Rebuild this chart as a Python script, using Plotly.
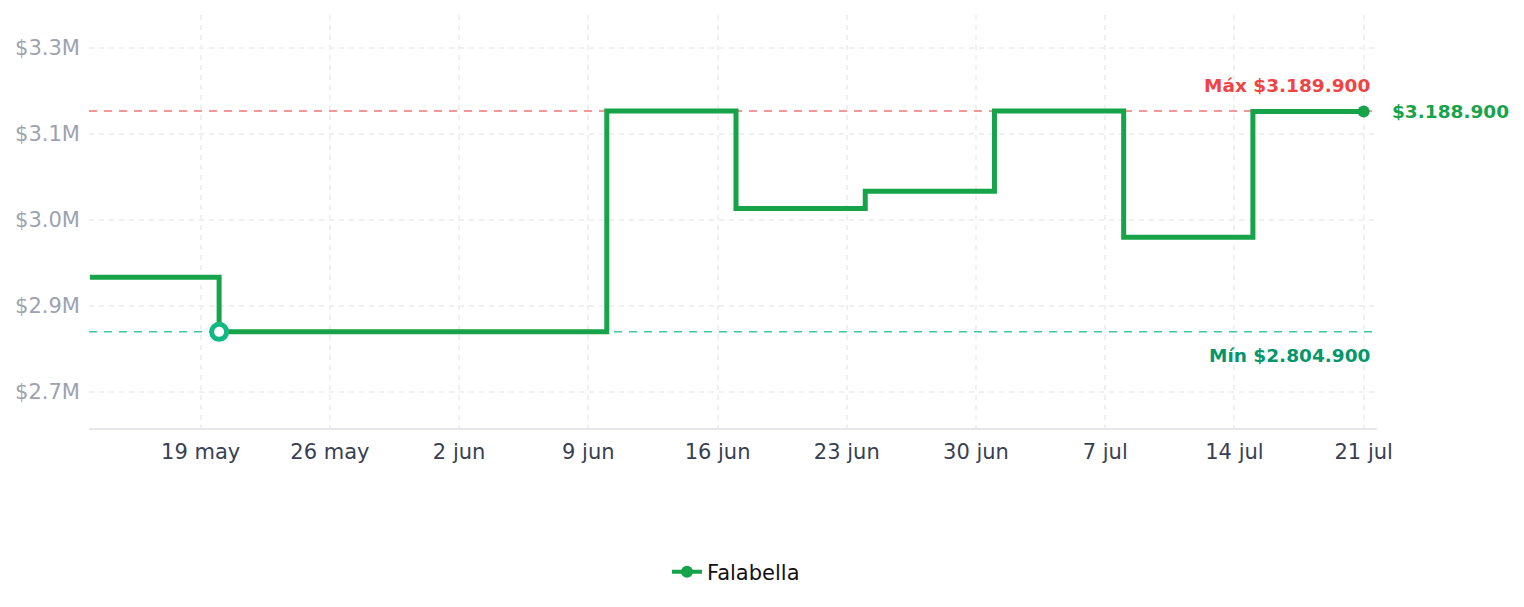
import plotly.graph_objects as go

# Data
dates = ["2025-05-13", "2025-05-20", "2025-05-27", "2025-06-03", "2025-06-10",
         "2025-06-17", "2025-06-24", "2025-07-01", "2025-07-08", "2025-07-15", "2025-07-21"]
prices = [2899900, 2804900, 2804900, 2804900, 3189900,
          3019900, 3049900, 3189900, 2969900, 3188900, 3188900]
series_name = "Falabella"

max_price = 3189900
min_price = 2804900
min_date = "2025-05-20"
last_date = dates[-1]
last_price = prices[-1]

x_tick_vals = ["2025-05-19", "2025-05-26", "2025-06-02", "2025-06-09", "2025-06-16",
               "2025-06-23", "2025-06-30", "2025-07-07", "2025-07-14", "2025-07-21"]
x_tick_text = ["19 may", "26 may", "2 jun", "9 jun", "16 jun",
               "23 jun", "30 jun", "7 jul", "14 jul", "21 jul"]
y_tick_vals = [2700000, 2850000, 3000000, 3150000, 3300000]
y_tick_text = ["$2.7M", "$2.9M", "$3.0M", "$3.1M", "$3.3M"]

max_label = "Máx $3.189.900"
min_label = "Mín $2.804.900"
last_label = "$3.188.900"

GREEN = "#16a34a"
FONT = "DejaVu Sans"

fig = go.Figure()

# main step line
fig.add_trace(go.Scatter(
    x=dates, y=prices, mode="lines", line=dict(color=GREEN, width=5, shape="hv"),
    showlegend=False, hoverinfo="skip"))

# legend entry
fig.add_trace(go.Scatter(
    x=[None], y=[None], mode="lines+markers", name=series_name,
    line=dict(color=GREEN, width=4), marker=dict(color=GREEN, size=12)))

# min marker (hollow)
fig.add_trace(go.Scatter(
    x=[min_date], y=[min_price], mode="markers", showlegend=False,
    marker=dict(color="white", size=15, line=dict(color="#10b981", width=5))))

# last point marker
fig.add_trace(go.Scatter(
    x=[last_date], y=[last_price], mode="markers", showlegend=False,
    marker=dict(color=GREEN, size=12)))

# reference lines
fig.add_shape(type="line", xref="paper", x0=0, x1=1, yref="y", y0=max_price, y1=max_price,
              line=dict(color="rgba(239,68,68,0.75)", width=1.5, dash="8px,7px"), layer="below")
fig.add_shape(type="line", xref="paper", x0=0, x1=1, yref="y", y0=min_price, y1=min_price,
              line=dict(color="rgba(16,185,129,0.8)", width=1.5, dash="8px,7px"), layer="below")

fig.add_annotation(xref="paper", x=1, xanchor="right", xshift=-5, y=max_price, yanchor="middle",
                   yshift=25, text=max_label, showarrow=False,
                   font=dict(family=FONT, size=18.5, color="#ef4444", weight="bold"))
fig.add_annotation(xref="paper", x=1, xanchor="right", xshift=-5, y=min_price, yanchor="middle",
                   yshift=-24, text=min_label, showarrow=False,
                   font=dict(family=FONT, size=18.5, color="#059669", weight="bold"))
fig.add_annotation(x=last_date, y=last_price, xanchor="left", xshift=26, yanchor="middle",
                   text=last_label, showarrow=False,
                   font=dict(family=FONT, size=18.5, color=GREEN, weight="bold"))

fig.update_layout(
    width=1524, height=607,
    margin=dict(l=89, r=147, t=15, b=179),
    paper_bgcolor="white", plot_bgcolor="white",
    font=dict(family=FONT, size=21, color="#111111"),
    showlegend=True,
    legend=dict(orientation="h", x=0.5 + 3 / 1288, xanchor="center", y=-0.349, yanchor="middle",
                font=dict(family=FONT, size=21, color="#111111")),
    xaxis=dict(
        range=["2025-05-12 22:50", "2025-07-21 17:20"],
        tickmode="array", tickvals=x_tick_vals, ticktext=x_tick_text,
        tickfont=dict(family=FONT, size=21, color="#374151"),
        showgrid=True, gridcolor="#f0f0f0", griddash="5px,5px", gridwidth=2,
        showline=True, linecolor="#e5e7eb", linewidth=1.5,
        zeroline=False, ticks="", ticklabelstandoff=4),
    yaxis=dict(
        range=[2637400, 3357000],
        tickmode="array", tickvals=y_tick_vals, ticktext=y_tick_text,
        tickfont=dict(family=FONT, size=21, color="#9ca3af"),
        showgrid=True, gridcolor="#f0f0f0", griddash="5px,5px", gridwidth=2,
        showline=False, zeroline=False, ticks="", ticklabelstandoff=8),
)

fig.write_html("out.html")
